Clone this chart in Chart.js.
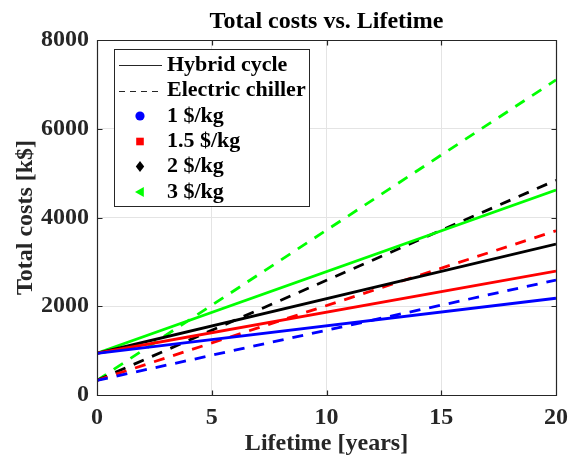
<!DOCTYPE html>
<html>
<head>
<meta charset="utf-8">
<script src="https://cdn.jsdelivr.net/npm/chart.js@4/dist/chart.umd.min.js"></script>
<style>
  html, body { margin: 0; padding: 0; background: #fff; }
  #wrap { width: 568px; height: 456px; }
</style>
</head>
<body>
<div id="wrap"><canvas id="chart" width="568" height="456"></canvas></div>
<script>
// DATA
const years = [0, 20];

const hybrid1 = [940, 2180];
const hybrid15 = [940, 2790];
const hybrid2 = [940, 3400];
const hybrid3 = [940, 4620];

const chiller1 = [330, 2590];
const chiller15 = [330, 3700];
const chiller2 = [330, 4840];
const chiller3 = [330, 7100];

const xTicks = [0, 5, 10, 15, 20];
const yTicks = [0, 2000, 4000, 6000, 8000];

const legendLabels = ['Hybrid cycle', 'Electric chiller', '1 $/kg', '1.5 $/kg', '2 $/kg', '3 $/kg'];

// STYLE

const FONT = "'Liberation Serif', 'Times New Roman', serif";
const AXIS_COLOR = '#262626';
const BLUE = '#0000ff';
const RED = '#ff0000';
const BLACK = '#000000';
const GREEN = '#00ff00';

const toPoints = (ys) => years.map((x, i) => ({ x, y: ys[i] }));

const line = (ys, color, dashed) => ({
  data: toPoints(ys),
  borderColor: color,
  backgroundColor: color,
  borderWidth: 2.8,
  borderDash: dashed ? [11, 9] : [],
  pointRadius: 0,
  fill: false,
  tension: 0,
});

// MATLAB like box with inward ticks
const boxPlugin = {
  id: 'box',
  afterDatasetsDraw(chart) {
    const { ctx, chartArea: a, scales } = chart;
    const L = Math.round(a.left) + 0.5;
    const R = Math.round(a.right) + 0.5;
    const T = Math.round(a.top) + 0.5;
    const B = Math.round(a.bottom) + 0.5;
    ctx.save();
    ctx.strokeStyle = AXIS_COLOR;
    ctx.lineWidth = 1.2;
    ctx.beginPath();
    ctx.rect(L, T, R - L, B - T);
    xTicks.forEach((v) => {
      const px = Math.round(scales.x.getPixelForValue(v)) + 0.5;
      ctx.moveTo(px, B);
      ctx.lineTo(px, B - 5);
      ctx.moveTo(px, T);
      ctx.lineTo(px, T + 5);
    });
    yTicks.forEach((v) => {
      const py = Math.round(scales.y.getPixelForValue(v)) + 0.5;
      ctx.moveTo(L, py);
      ctx.lineTo(L + 5, py);
      ctx.moveTo(R, py);
      ctx.lineTo(R - 5, py);
    });
    ctx.stroke();
    ctx.restore();
  },
};

const drawMarker = (ctx, kind, x, y, color) => {
  ctx.fillStyle = color;
  ctx.beginPath();
  if (kind === 'circle') {
    ctx.arc(x, y, 4.6, 0, Math.PI * 2);
  } else if (kind === 'square') {
    ctx.rect(x - 3.8, y - 3.8, 7.6, 7.6);
  } else if (kind === 'diamond') {
    ctx.moveTo(x, y - 5.6);
    ctx.lineTo(x + 4.2, y);
    ctx.lineTo(x, y + 5.6);
    ctx.lineTo(x - 4.2, y);
  } else if (kind === 'triangleLeft') {
    ctx.moveTo(x - 5, y);
    ctx.lineTo(x + 3.8, y - 5);
    ctx.lineTo(x + 3.8, y + 5);
  }
  ctx.closePath();
  ctx.fill();
};

// boxed legend inside the plot, top left
const legendPlugin = {
  id: 'boxLegend',
  afterDraw(chart) {
    const { ctx } = chart;
    const left = 114.5, top = 49.5, w = 195, h = 157;
    const rowY = [65, 90.5, 116, 141.5, 166.5, 192];
    const kinds = ['solid', 'dashed', 'circle', 'square', 'diamond', 'triangleLeft'];
    const colors = [BLACK, BLACK, BLUE, RED, BLACK, GREEN];
    ctx.save();
    ctx.fillStyle = '#fff';
    ctx.fillRect(left, top, w, h);
    ctx.strokeStyle = AXIS_COLOR;
    ctx.lineWidth = 1;
    ctx.strokeRect(left, top, w, h);

    legendLabels.forEach((label, i) => {
      const y = rowY[i];
      const kind = kinds[i];
      if (kind === 'solid' || kind === 'dashed') {
        ctx.save();
        ctx.strokeStyle = AXIS_COLOR;
        ctx.lineWidth = 1;
        ctx.setLineDash(kind === 'dashed' ? [6, 5] : []);
        ctx.beginPath();
        ctx.moveTo(119, Math.round(y) + 0.5);
        ctx.lineTo(162, Math.round(y) + 0.5);
        ctx.stroke();
        ctx.restore();
      } else {
        drawMarker(ctx, kind, 140, y, colors[i]);
      }
      ctx.fillStyle = '#000';
      ctx.font = `bold 22px ${FONT}`;
      ctx.textAlign = 'left';
      ctx.textBaseline = 'middle';
      ctx.fillText(label, 167, y);
    });
    ctx.restore();
  },
};

const chart = new Chart(document.querySelector('#chart'), {
  type: 'line',
  data: {
    datasets: [
      line(hybrid1, BLUE, false),
      line(hybrid15, RED, false),
      line(hybrid2, BLACK, false),
      line(hybrid3, GREEN, false),
      line(chiller1, BLUE, true),
      line(chiller15, RED, true),
      line(chiller2, BLACK, true),
      line(chiller3, GREEN, true),
    ],
  },
  options: {
    responsive: false,
    animation: false,
    layout: {
      padding: { left: 0, right: 0, top: 0, bottom: 0 },
    },
    plugins: {
      legend: { display: false },
      tooltip: { enabled: false },
      title: {
        display: true,
        fullSize: false,
        text: 'Total costs vs. Lifetime',
        color: '#000',
        font: { family: FONT, size: 24, weight: 'bold' },
        padding: { top: 7.6, bottom: 3.6 },
      },
    },
    scales: {
      x: {
        type: 'linear',
        min: 0,
        max: 20,
        afterFit: (scale) => {
          scale.height = 61;
          scale.paddingLeft = 0;
          scale.paddingRight = 12;
        },
        afterBuildTicks: (scale) => {
          scale.ticks = xTicks.map((v) => ({ value: v }));
        },
        grid: { color: '#e4e4e4', drawTicks: false },
        border: { display: false },
        ticks: {
          color: AXIS_COLOR,
          padding: 8.2,
          maxRotation: 0,
          callback: (v) => String(v),
          font: { family: FONT, size: 24, weight: 'bold' },
        },
        title: {
          display: true,
          text: 'Lifetime [years]',
          color: AXIS_COLOR,
          font: { family: FONT, size: 24, weight: 'bold', lineHeight: 1 },
          padding: { top: 0, bottom: 0 },
        },
      },
      y: {
        type: 'linear',
        min: 0,
        max: 8000,
        afterFit: (scale) => {
          scale.width = 97;
        },
        afterBuildTicks: (scale) => {
          scale.ticks = yTicks.map((v) => ({ value: v }));
        },
        grid: { color: '#e4e4e4', drawTicks: false },
        border: { display: false },
        ticks: {
          color: AXIS_COLOR,
          padding: 8,
          callback: (v) => String(v),
          font: { family: FONT, size: 24, weight: 'bold' },
        },
        title: {
          display: true,
          text: 'Total costs [k$]',
          color: AXIS_COLOR,
          font: { family: FONT, size: 24, weight: 'bold' },
          padding: { top: 11.2, bottom: 0 },
        },
      },
    },
  },
  plugins: [boxPlugin, legendPlugin],
});
</script>
</body>
</html>
